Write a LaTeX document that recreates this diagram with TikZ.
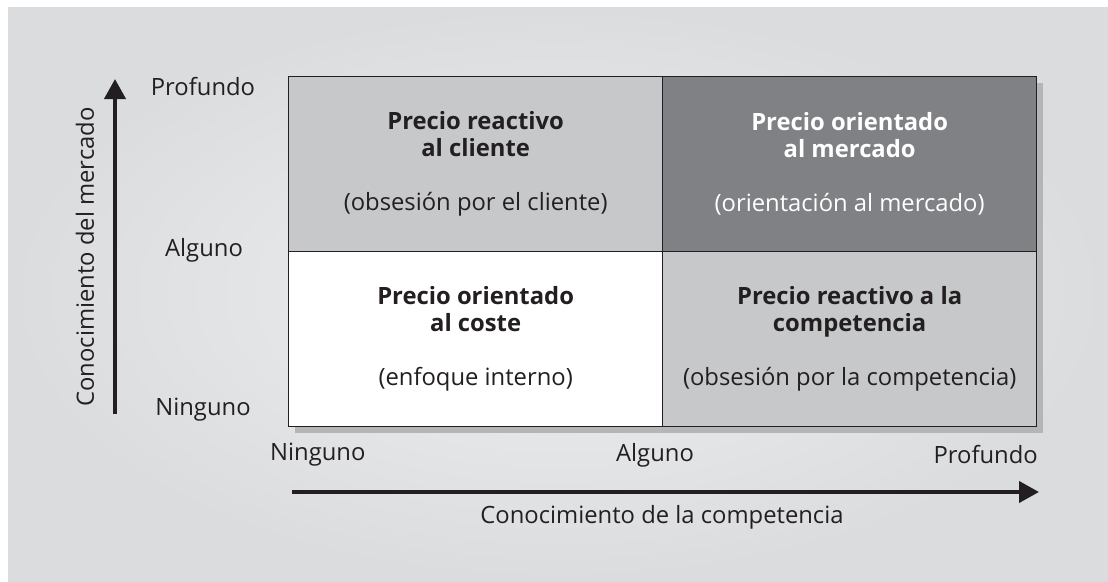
\documentclass[tikz,border=0pt]{standalone}
\usepackage{fontspec}
\setmainfont{Open Sans}
\usetikzlibrary{arrows.meta}
\definecolor{bgedge}{HTML}{DBDCDE}
\definecolor{bgmid}{HTML}{EEEFF0}
\definecolor{cellgray}{HTML}{C7C8CA}
\definecolor{celldark}{HTML}{808184}
\definecolor{shadowgray}{HTML}{B4B5B7}
\definecolor{ink}{HTML}{231F20}
\tikzset{
  cell/.style={draw=ink, line width=1.3pt, anchor=north west, inner sep=0pt,
    minimum width=374pt, minimum height=175pt, align=center,
    font=\fontsize{23.8}{27}\selectfont, text=ink},
  axislabel/.style={font=\fontsize{23.8}{27}\selectfont, text=ink, inner sep=0pt},
  axisarrow/.style={line width=4pt, draw=ink, -{Triangle[length=20pt,width=21pt]}}
}
\begin{document}
\begin{tikzpicture}[x=1pt,y=-1pt]
\useasboundingbox (0,0) rectangle (1108,581);
\fill[white] (0,0) rectangle (1108,581);
\shade[inner color=bgmid, outer color=bgedge] (8,7) rectangle (1108,581);
% shadow
\fill[shadowgray] (295,83) rectangle (1043,433);
% cells
\node[cell, fill=cellgray] (tl) at (288,76) {\textbf{Precio reactivo}\\\textbf{al cliente}\\[27pt](obsesión por el cliente)};
\node[cell, fill=celldark, text=white] (tr) at (662,76) {\textbf{Precio orientado}\\\textbf{al mercado}\\[27pt](orientación al mercado)};
\node[cell, fill=white] (bl) at (288,251) {\textbf{Precio orientado}\\\textbf{al coste}\\[27pt](enfoque interno)};
\node[cell, fill=cellgray] (br) at (662,251) {\textbf{Precio reactivo a la}\\\textbf{competencia}\\[27pt](obsesión por la competencia)};
% y-axis labels
\node[axislabel] (yp) at (203,87) {Profundo};
\node[axislabel] (ya) at (204,250) {Alguno};
\node[axislabel] (yn) at (203,410) {Ninguno};
% x-axis labels
\node[axislabel, anchor=west] (xn) at (270,455) {Ninguno};
\node[axislabel] (xa) at (655,455) {Alguno};
\node[axislabel, anchor=east] (xp) at (1038,455) {Profundo};
% arrows
\coordinate (yarrowstart) at (115,414);
\coordinate (yarrowend) at (115,79);
\draw[axisarrow] (yarrowstart) -- (yarrowend);
\coordinate (xarrowstart) at (292,492);
\coordinate (xarrowend) at (1039,492);
\draw[axisarrow] (xarrowstart) -- (xarrowend);
% axis titles
\node[axislabel, rotate=90] (ytitle) at (85,257) {Conocimiento del mercado};
\node[axislabel] (xtitle) at (662,517) {Conocimiento de la competencia};
\end{tikzpicture}
\end{document}
